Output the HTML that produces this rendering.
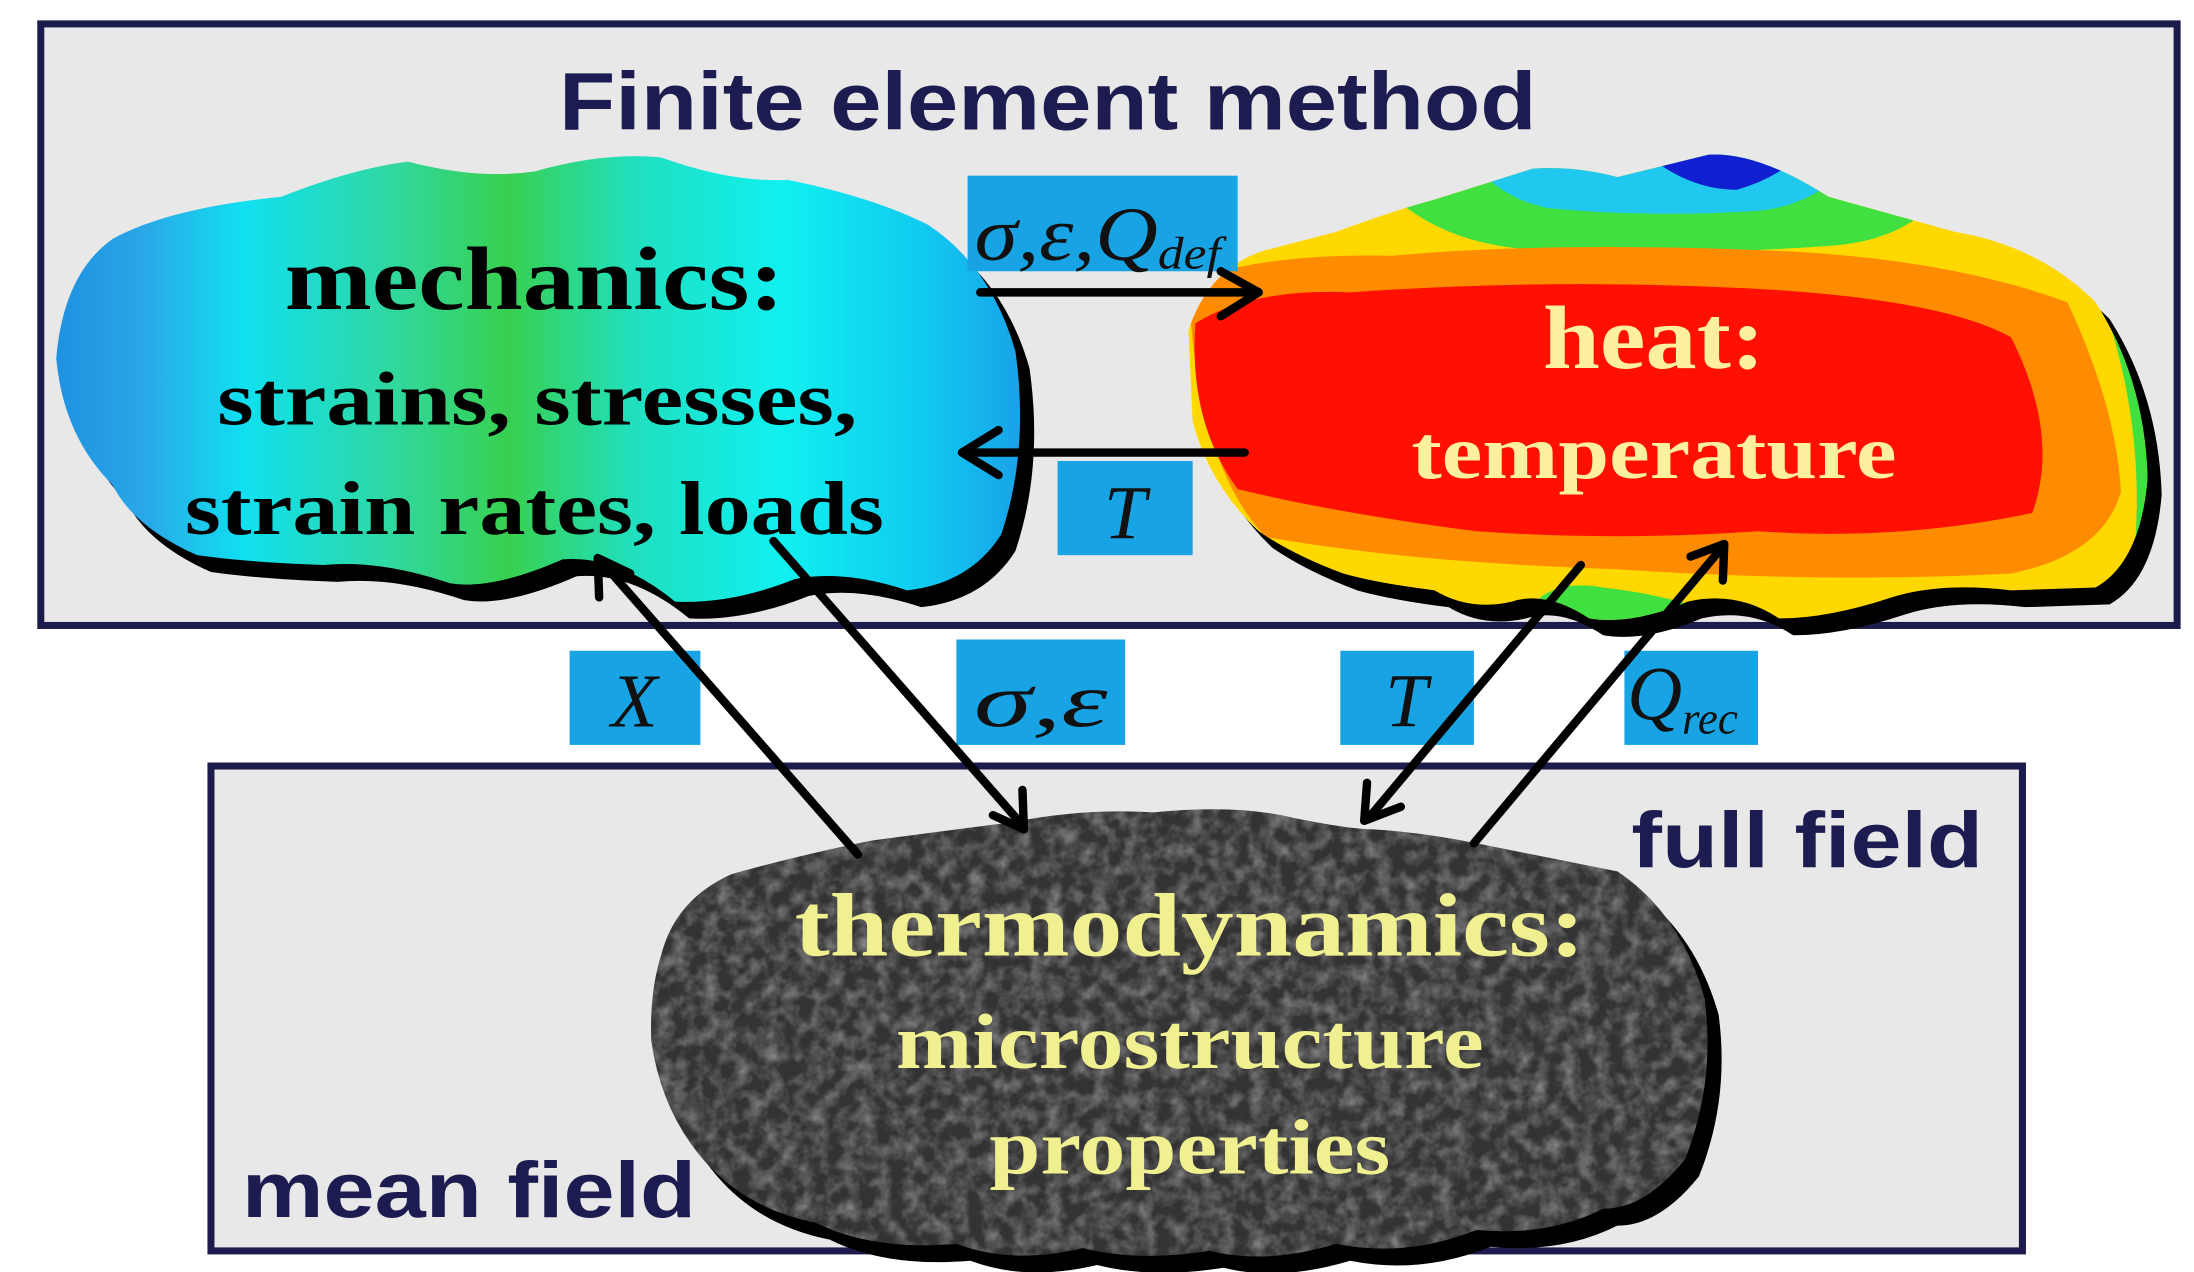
<!DOCTYPE html>
<html><head><meta charset="utf-8"><style>
html,body{margin:0;padding:0;background:#fff;}
svg{display:block;}
</style></head><body>
<svg width="2194" height="1272" viewBox="0 0 1560 905" preserveAspectRatio="none" xmlns="http://www.w3.org/2000/svg">
<defs>
<linearGradient id="mg" x1="35" y1="0" x2="730" y2="0" gradientUnits="userSpaceOnUse">
<stop offset="0" stop-color="#1e8fe0"/>
<stop offset="0.1" stop-color="#2aa8e8"/>
<stop offset="0.2" stop-color="#10e0f0"/>
<stop offset="0.35" stop-color="#30d8a0"/>
<stop offset="0.47" stop-color="#38d050"/>
<stop offset="0.6" stop-color="#20e0c0"/>
<stop offset="0.75" stop-color="#10f0f0"/>
<stop offset="0.9" stop-color="#10c8f0"/>
<stop offset="1" stop-color="#1aa0e8"/>
</linearGradient>
<path id="heatp" d="M845,235 Q860,190 900,178 L950,165 Q990,150 1020,142 L1090,120 Q1120,118 1150,126 L1215,110 Q1250,108 1300,140 L1390,165 Q1450,175 1490,215 Q1525,270 1527,340 Q1522,400 1490,418 L1430,420 Q1380,414 1345,425 Q1300,440 1265,440 Q1235,420 1200,428 Q1160,445 1130,440 Q1100,420 1075,428 Q1045,435 1020,420 Q980,415 955,408 Q920,395 895,378 Q860,345 848,300 Z"/>
<clipPath id="hc"><use href="#heatp"/></clipPath>
<path id="microp" d="M470,680 Q480,640 520,622 Q570,608 620,598 Q680,590 720,585 Q770,575 820,578 Q880,572 920,582 Q960,590 975,590 Q1010,592 1050,600 Q1110,612 1150,620 Q1195,650 1212,710 Q1220,770 1198,825 Q1170,860 1140,860 Q1100,880 1050,875 Q1000,895 950,885 Q900,900 860,890 Q810,898 770,888 Q720,900 680,885 Q620,890 580,870 Q530,860 500,825 Q470,790 463,740 Q462,705 470,680 Z"/>
<clipPath id="mc"><use href="#microp"/></clipPath>
<filter id="noise" x="0" y="0" width="100%" height="100%">
<feTurbulence type="fractalNoise" baseFrequency="0.09" numOctaves="3" seed="4"/>
<feColorMatrix type="matrix" values="0 0 0 0 0.55  0 0 0 0 0.55  0 0 0 0 0.55  1.4 0 0 0 -0.5"/>
</filter>
</defs>
<rect width="1560" height="905" fill="#fff"/>
<rect x="29" y="17" width="1519" height="428" fill="#e8e8e8" stroke="#1c1c4c" stroke-width="5"/>
<rect x="150" y="545" width="1288" height="345" fill="#e8e8e8" stroke="#1c1c4c" stroke-width="5"/>
<text x="745" y="92" font-family="Liberation Sans, sans-serif" font-weight="bold" font-size="58" fill="#1c1c50" text-anchor="middle" textLength="695" lengthAdjust="spacingAndGlyphs">Finite element method</text>
<text x="1160" y="617" font-family="Liberation Sans, sans-serif" font-weight="bold" font-size="56" fill="#1c1c50" textLength="250" lengthAdjust="spacingAndGlyphs">full field</text>
<text x="172" y="866" font-family="Liberation Sans, sans-serif" font-weight="bold" font-size="56" fill="#1c1c50" textLength="323" lengthAdjust="spacingAndGlyphs">mean field</text>

<g>
<path transform="translate(10,12)" fill="#000" d="M40,255 Q45,195 80,170 Q120,148 200,140 Q250,120 290,115 Q340,128 380,122 Q430,108 470,112 Q520,130 560,128 Q620,140 660,160 Q705,190 722,250 Q732,320 712,380 Q690,415 645,420 Q600,405 565,412 Q520,430 480,428 Q440,395 400,398 Q350,420 320,415 Q270,398 230,402 Q175,400 140,395 Q95,375 80,345 Q45,310 40,255 Z"/>
<path fill="url(#mg)" d="M40,255 Q45,195 80,170 Q120,148 200,140 Q250,120 290,115 Q340,128 380,122 Q430,108 470,112 Q520,130 560,128 Q620,140 660,160 Q705,190 722,250 Q732,320 712,380 Q690,415 645,420 Q600,405 565,412 Q520,430 480,428 Q440,395 400,398 Q350,420 320,415 Q270,398 230,402 Q175,400 140,395 Q95,375 80,345 Q45,310 40,255 Z"/>
</g>
<use href="#heatp" transform="translate(10,12)" fill="#000"/>
<g clip-path="url(#hc)">
<rect x="830" y="100" width="720" height="360" fill="#ffd800"/>
<path d="M960,100 H1400 Q1380,170 1300,175 Q1200,182 1100,178 Q1000,176 960,100 Z" fill="#40e040"/>
<path d="M1040,100 H1330 Q1300,145 1250,150 Q1170,155 1100,148 Q1055,138 1040,100 Z" fill="#20c8f0"/>
<path d="M1160,100 H1290 Q1270,125 1235,135 Q1195,135 1160,100 Z" fill="#1020d0"/>
<path d="M1495,215 Q1525,300 1518,390 L1540,390 V215 Z" fill="#40e040"/>
<path d="M1080,445 Q1095,410 1140,418 Q1200,425 1240,445 Z" fill="#40e040"/>
<path d="M845,200 Q900,180 990,182 Q1100,172 1250,178 Q1380,182 1470,215 Q1505,290 1508,350 Q1495,395 1430,408 Q1300,415 1150,405 Q1000,400 900,382 Q850,330 845,200 Z" fill="#ff8c00"/>
<path d="M850,230 Q890,205 960,208 Q1100,198 1240,205 Q1380,212 1430,240 Q1465,310 1445,365 Q1350,385 1250,378 Q1150,385 1050,378 Q950,365 880,348 Q845,300 850,230 Z" fill="#ff1000"/>
</g>
<use href="#microp" transform="translate(10,12)" fill="#000"/>
<use href="#microp" fill="#333"/>
<g clip-path="url(#mc)" opacity="0.7"><rect x="460" y="570" width="760" height="330" filter="url(#noise)"/></g>

<g fill="#18a4e4">
<rect x="688" y="125" width="192" height="68"/>
<rect x="752" y="328" width="96" height="67"/>
<rect x="405" y="463" width="93" height="67"/>
<rect x="680" y="455" width="120" height="75"/>
<rect x="953" y="463" width="95" height="67"/>
<rect x="1155" y="463" width="95" height="67"/>
</g>
<g font-family="Liberation Serif, serif" font-style="italic" fill="#111" font-size="54">
<text x="693" y="185" textLength="175" lengthAdjust="spacingAndGlyphs">σ,ε,Q<tspan font-size="32" dy="6">def</tspan></text>
<text x="800" y="383" text-anchor="middle">T</text>
<text x="451" y="517" text-anchor="middle">X</text>
<text x="740" y="517" text-anchor="middle" textLength="95" lengthAdjust="spacingAndGlyphs">σ,ε</text>
<text x="1000" y="517" text-anchor="middle">T</text>
<text x="1157" y="512">Q<tspan font-size="32" dy="10">rec</tspan></text>
</g>

<g stroke="#000" stroke-width="6" fill="none" stroke-linecap="round" stroke-linejoin="round">
<line x1="697" y1="208" x2="893" y2="208"/>
<polyline points="868,193 895,208 868,225"/>
<line x1="885" y1="322" x2="686" y2="322"/>
<polyline points="710,306 684,322 710,338"/>
<line x1="610" y1="608" x2="428" y2="400"/>
<polyline points="426,425 425,397 448,408"/>
<line x1="550" y1="385" x2="726" y2="586"/>
<polyline points="706,580 728,590 727,562"/>
<line x1="1124" y1="402" x2="974" y2="581"/>
<polyline points="972,557 970,584 996,574"/>
<line x1="1048" y1="600" x2="1224" y2="390"/>
<polyline points="1202,396 1226,387 1225,413"/>
</g>

<g font-family="Liberation Serif, serif" font-weight="bold" text-anchor="middle">
<text x="380" y="220" font-size="64" fill="#000" textLength="355" lengthAdjust="spacingAndGlyphs">mechanics:</text>
<text x="382" y="302" font-size="54" fill="#000" textLength="455" lengthAdjust="spacingAndGlyphs">strains, stresses,</text>
<text x="380" y="380" font-size="54" fill="#000" textLength="497" lengthAdjust="spacingAndGlyphs">strain rates, loads</text>
<text x="1176" y="262" font-size="64" fill="#fff0a0" textLength="158" lengthAdjust="spacingAndGlyphs">heat:</text>
<text x="1176" y="340" font-size="54" fill="#fff0a0" textLength="345" lengthAdjust="spacingAndGlyphs">temperature</text>
<text x="846" y="680" font-size="64" fill="#f0f090" textLength="562" lengthAdjust="spacingAndGlyphs">thermodynamics:</text>
<text x="846" y="760" font-size="56" fill="#f0f090" textLength="418" lengthAdjust="spacingAndGlyphs">microstructure</text>
<text x="846" y="835" font-size="56" fill="#f0f090" textLength="285" lengthAdjust="spacingAndGlyphs">properties</text>
</g>
</svg>
</body></html>
